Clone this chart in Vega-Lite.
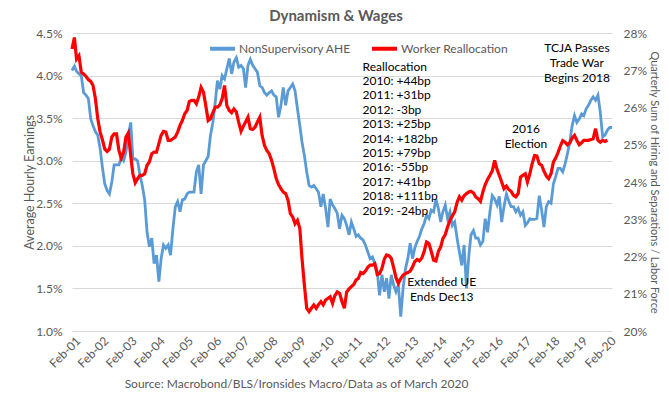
{
  "$schema": "https://vega.github.io/schema/vega-lite/v6.json",
  "width": 540,
  "height": 298,
  "autosize": {"type": "none"},
  "padding": {"left": 72, "top": 33, "right": 57, "bottom": 64},
  "background": "white",
  "title": {"text": "Dynamism & Wages", "font": "Lato", "fontSize": 15, "fontWeight": "bold", "color": "#595959", "frame": "group", "anchor": "middle", "offset": 3, "dx": -6},
  "config": {
    "font": "Lato",
    "view": {"stroke": null},
    "axis": {"labelFont": "Lato", "labelFontSize": 12, "labelColor": "#595959", "titleFont": "Lato", "titleFontSize": 12, "titleFontWeight": "normal", "titleColor": "#595959", "ticks": false, "domain": false, "grid": false, "labelOverlap": false},
    "axisX": {"labelOverlap": false, "labelBound": false, "labelFlush": false}
  },
  "datasets": {
    "series": [
      {"d":"2001-01-01","ahe":4.06,"wr":27.57},{"d":"2001-02-01","ahe":4.11,"wr":27.88},{"d":"2001-03-01","ahe":4.05,"wr":27.30},{"d":"2001-04-01","ahe":4.02,"wr":27.39},{"d":"2001-05-01","ahe":4.00,"wr":26.95},{"d":"2001-06-01","ahe":3.80,"wr":26.90},{"d":"2001-07-01","ahe":3.77,"wr":26.84},{"d":"2001-08-01","ahe":3.73,"wr":26.75},{"d":"2001-09-01","ahe":3.49,"wr":26.70},{"d":"2001-10-01","ahe":3.41,"wr":26.59},{"d":"2001-11-01","ahe":3.34,"wr":26.23},{"d":"2001-12-01","ahe":3.30,"wr":25.70},
      {"d":"2002-01-01","ahe":3.14,"wr":25.34},{"d":"2002-02-01","ahe":2.91,"wr":25.12},{"d":"2002-03-01","ahe":2.73,"wr":24.89},{"d":"2002-04-01","ahe":2.65,"wr":24.82},{"d":"2002-05-01","ahe":2.61,"wr":24.88},{"d":"2002-06-01","ahe":2.75,"wr":25.21},{"d":"2002-07-01","ahe":2.95,"wr":25.29},{"d":"2002-08-01","ahe":2.95,"wr":25.29},{"d":"2002-09-01","ahe":2.95,"wr":24.85},{"d":"2002-10-01","ahe":3.04,"wr":24.64},{"d":"2002-11-01","ahe":3.00,"wr":24.80},{"d":"2002-12-01","ahe":3.10,"wr":25.21},
      {"d":"2003-01-01","ahe":3.30,"wr":25.32},{"d":"2003-02-01","ahe":3.45,"wr":24.71},{"d":"2003-03-01","ahe":3.02,"wr":24.22},{"d":"2003-04-01","ahe":3.02,"wr":23.98},{"d":"2003-05-01","ahe":3.00,"wr":24.09},{"d":"2003-06-01","ahe":2.83,"wr":24.18},{"d":"2003-07-01","ahe":2.71,"wr":24.18},{"d":"2003-08-01","ahe":2.54,"wr":24.22},{"d":"2003-09-01","ahe":2.16,"wr":24.45},{"d":"2003-10-01","ahe":1.99,"wr":24.54},{"d":"2003-11-01","ahe":2.09,"wr":24.76},{"d":"2003-12-01","ahe":1.79,"wr":24.80},
      {"d":"2004-01-01","ahe":1.89,"wr":24.80},{"d":"2004-02-01","ahe":1.58,"wr":25.03},{"d":"2004-03-01","ahe":1.85,"wr":25.25},{"d":"2004-04-01","ahe":2.01,"wr":25.36},{"d":"2004-05-01","ahe":1.97,"wr":25.34},{"d":"2004-06-01","ahe":2.01,"wr":25.12},{"d":"2004-07-01","ahe":1.89,"wr":25.12},{"d":"2004-08-01","ahe":2.20,"wr":25.16},{"d":"2004-09-01","ahe":2.46,"wr":25.21},{"d":"2004-10-01","ahe":2.52,"wr":25.34},{"d":"2004-11-01","ahe":2.40,"wr":25.52},{"d":"2004-12-01","ahe":2.54,"wr":25.65},
      {"d":"2005-01-01","ahe":2.55,"wr":25.83},{"d":"2005-02-01","ahe":2.61,"wr":25.92},{"d":"2005-03-01","ahe":2.63,"wr":26.16},{"d":"2005-04-01","ahe":2.63,"wr":26.19},{"d":"2005-05-01","ahe":2.63,"wr":26.19},{"d":"2005-06-01","ahe":2.87,"wr":26.10},{"d":"2005-07-01","ahe":2.95,"wr":26.28},{"d":"2005-08-01","ahe":2.61,"wr":26.54},{"d":"2005-09-01","ahe":2.95,"wr":26.41},{"d":"2005-10-01","ahe":3.00,"wr":26.05},{"d":"2005-11-01","ahe":3.05,"wr":25.65},{"d":"2005-12-01","ahe":3.30,"wr":25.70},
      {"d":"2006-01-01","ahe":3.45,"wr":25.86},{"d":"2006-02-01","ahe":3.69,"wr":26.01},{"d":"2006-03-01","ahe":3.94,"wr":26.01},{"d":"2006-04-01","ahe":3.84,"wr":26.07},{"d":"2006-05-01","ahe":4.00,"wr":26.23},{"d":"2006-06-01","ahe":3.96,"wr":26.59},{"d":"2006-07-01","ahe":4.08,"wr":26.05},{"d":"2006-08-01","ahe":4.20,"wr":25.92},{"d":"2006-09-01","ahe":4.02,"wr":25.86},{"d":"2006-10-01","ahe":4.16,"wr":25.96},{"d":"2006-11-01","ahe":4.21,"wr":25.88},{"d":"2006-12-01","ahe":4.10,"wr":25.61},
      {"d":"2007-01-01","ahe":4.12,"wr":25.36},{"d":"2007-02-01","ahe":4.08,"wr":25.50},{"d":"2007-03-01","ahe":3.86,"wr":25.61},{"d":"2007-04-01","ahe":4.12,"wr":25.74},{"d":"2007-05-01","ahe":4.19,"wr":25.43},{"d":"2007-06-01","ahe":4.12,"wr":25.41},{"d":"2007-07-01","ahe":4.08,"wr":25.47},{"d":"2007-08-01","ahe":4.04,"wr":25.61},{"d":"2007-09-01","ahe":3.88,"wr":25.74},{"d":"2007-10-01","ahe":3.86,"wr":25.25},{"d":"2007-11-01","ahe":3.80,"wr":24.98},{"d":"2007-12-01","ahe":3.77,"wr":24.85},
      {"d":"2008-01-01","ahe":3.80,"wr":24.76},{"d":"2008-02-01","ahe":3.82,"wr":24.58},{"d":"2008-03-01","ahe":3.77,"wr":24.36},{"d":"2008-04-01","ahe":3.75,"wr":24.09},{"d":"2008-05-01","ahe":3.51,"wr":23.93},{"d":"2008-06-01","ahe":3.65,"wr":23.82},{"d":"2008-07-01","ahe":3.86,"wr":23.73},{"d":"2008-08-01","ahe":3.65,"wr":23.69},{"d":"2008-09-01","ahe":3.82,"wr":23.51},{"d":"2008-10-01","ahe":3.86,"wr":23.15},{"d":"2008-11-01","ahe":3.90,"wr":23.06},{"d":"2008-12-01","ahe":3.82,"wr":22.88},
      {"d":"2009-01-01","ahe":3.61,"wr":22.97},{"d":"2009-02-01","ahe":3.41,"wr":22.75},{"d":"2009-03-01","ahe":3.22,"wr":21.95},{"d":"2009-04-01","ahe":3.06,"wr":21.23},{"d":"2009-05-01","ahe":2.87,"wr":20.61},{"d":"2009-06-01","ahe":2.71,"wr":20.52},{"d":"2009-07-01","ahe":2.69,"wr":20.61},{"d":"2009-08-01","ahe":2.71,"wr":20.70},{"d":"2009-09-01","ahe":2.67,"wr":20.61},{"d":"2009-10-01","ahe":2.63,"wr":20.71},{"d":"2009-11-01","ahe":2.46,"wr":20.79},{"d":"2009-12-01","ahe":2.61,"wr":20.70},
      {"d":"2010-01-01","ahe":2.44,"wr":20.83},{"d":"2010-02-01","ahe":2.22,"wr":20.88},{"d":"2010-03-01","ahe":2.55,"wr":20.92},{"d":"2010-04-01","ahe":2.48,"wr":20.74},{"d":"2010-05-01","ahe":2.44,"wr":20.95},{"d":"2010-06-01","ahe":2.38,"wr":21.05},{"d":"2010-07-01","ahe":2.20,"wr":21.01},{"d":"2010-08-01","ahe":2.36,"wr":20.79},{"d":"2010-09-01","ahe":2.32,"wr":20.61},{"d":"2010-10-01","ahe":2.24,"wr":21.05},{"d":"2010-11-01","ahe":2.13,"wr":21.13},{"d":"2010-12-01","ahe":2.28,"wr":21.19},
      {"d":"2011-01-01","ahe":2.20,"wr":21.25},{"d":"2011-02-01","ahe":2.11,"wr":21.37},{"d":"2011-03-01","ahe":2.13,"wr":21.41},{"d":"2011-04-01","ahe":2.09,"wr":21.57},{"d":"2011-05-01","ahe":2.07,"wr":21.54},{"d":"2011-06-01","ahe":2.01,"wr":21.61},{"d":"2011-07-01","ahe":1.93,"wr":21.71},{"d":"2011-08-01","ahe":1.85,"wr":21.77},{"d":"2011-09-01","ahe":1.87,"wr":21.77},{"d":"2011-10-01","ahe":1.79,"wr":21.81},{"d":"2011-11-01","ahe":1.70,"wr":21.52},{"d":"2011-12-01","ahe":1.42,"wr":21.54},
      {"d":"2012-01-01","ahe":1.66,"wr":21.68},{"d":"2012-02-01","ahe":1.46,"wr":21.93},{"d":"2012-03-01","ahe":1.62,"wr":22.04},{"d":"2012-04-01","ahe":1.38,"wr":22.02},{"d":"2012-05-01","ahe":1.66,"wr":21.95},{"d":"2012-06-01","ahe":1.54,"wr":21.70},{"d":"2012-07-01","ahe":1.46,"wr":21.43},{"d":"2012-08-01","ahe":1.54,"wr":21.28},{"d":"2012-09-01","ahe":1.17,"wr":21.41},{"d":"2012-10-01","ahe":1.50,"wr":21.50},{"d":"2012-11-01","ahe":1.73,"wr":21.54},{"d":"2012-12-01","ahe":1.85,"wr":21.57},
      {"d":"2013-01-01","ahe":2.03,"wr":21.61},{"d":"2013-02-01","ahe":1.85,"wr":21.72},{"d":"2013-03-01","ahe":1.97,"wr":21.86},{"d":"2013-04-01","ahe":2.05,"wr":21.92},{"d":"2013-05-01","ahe":2.11,"wr":21.88},{"d":"2013-06-01","ahe":2.20,"wr":21.96},{"d":"2013-07-01","ahe":2.26,"wr":22.13},{"d":"2013-08-01","ahe":2.36,"wr":22.39},{"d":"2013-09-01","ahe":2.32,"wr":22.35},{"d":"2013-10-01","ahe":2.42,"wr":22.14},{"d":"2013-11-01","ahe":2.40,"wr":21.90},{"d":"2013-12-01","ahe":2.55,"wr":21.88},
      {"d":"2014-01-01","ahe":2.44,"wr":22.13},{"d":"2014-02-01","ahe":2.28,"wr":22.26},{"d":"2014-03-01","ahe":2.40,"wr":22.48},{"d":"2014-04-01","ahe":2.48,"wr":22.59},{"d":"2014-05-01","ahe":2.32,"wr":22.79},{"d":"2014-06-01","ahe":2.40,"wr":22.97},{"d":"2014-07-01","ahe":2.24,"wr":23.09},{"d":"2014-08-01","ahe":2.28,"wr":23.20},{"d":"2014-09-01","ahe":2.09,"wr":23.45},{"d":"2014-10-01","ahe":1.93,"wr":23.60},{"d":"2014-11-01","ahe":1.77,"wr":23.51},{"d":"2014-12-01","ahe":2.01,"wr":23.63},
      {"d":"2015-01-01","ahe":1.50,"wr":23.69},{"d":"2015-02-01","ahe":1.89,"wr":23.73},{"d":"2015-03-01","ahe":2.13,"wr":23.75},{"d":"2015-04-01","ahe":2.18,"wr":23.71},{"d":"2015-05-01","ahe":2.09,"wr":23.60},{"d":"2015-06-01","ahe":2.09,"wr":23.55},{"d":"2015-07-01","ahe":2.01,"wr":23.48},{"d":"2015-08-01","ahe":2.05,"wr":23.73},{"d":"2015-09-01","ahe":2.32,"wr":23.93},{"d":"2015-10-01","ahe":2.16,"wr":24.07},{"d":"2015-11-01","ahe":2.40,"wr":24.18},{"d":"2015-12-01","ahe":2.59,"wr":24.30},
      {"d":"2016-01-01","ahe":2.55,"wr":24.58},{"d":"2016-02-01","ahe":2.48,"wr":24.34},{"d":"2016-03-01","ahe":2.58,"wr":24.18},{"d":"2016-04-01","ahe":2.28,"wr":24.00},{"d":"2016-05-01","ahe":2.46,"wr":23.82},{"d":"2016-06-01","ahe":2.61,"wr":23.89},{"d":"2016-07-01","ahe":2.53,"wr":23.80},{"d":"2016-08-01","ahe":2.46,"wr":23.75},{"d":"2016-09-01","ahe":2.46,"wr":23.64},{"d":"2016-10-01","ahe":2.40,"wr":23.60},{"d":"2016-11-01","ahe":2.44,"wr":23.69},{"d":"2016-12-01","ahe":2.36,"wr":24.13},
      {"d":"2017-01-01","ahe":2.40,"wr":24.18},{"d":"2017-02-01","ahe":2.24,"wr":24.22},{"d":"2017-03-01","ahe":2.27,"wr":24.00},{"d":"2017-04-01","ahe":2.32,"wr":24.22},{"d":"2017-05-01","ahe":2.31,"wr":24.49},{"d":"2017-06-01","ahe":2.31,"wr":24.71},{"d":"2017-07-01","ahe":2.32,"wr":24.70},{"d":"2017-08-01","ahe":2.59,"wr":24.49},{"d":"2017-09-01","ahe":2.42,"wr":24.45},{"d":"2017-10-01","ahe":2.22,"wr":24.29},{"d":"2017-11-01","ahe":2.46,"wr":24.16},{"d":"2017-12-01","ahe":2.52,"wr":24.09},
      {"d":"2018-01-01","ahe":2.50,"wr":24.22},{"d":"2018-02-01","ahe":2.73,"wr":24.54},{"d":"2018-03-01","ahe":2.81,"wr":24.64},{"d":"2018-04-01","ahe":2.91,"wr":24.79},{"d":"2018-05-01","ahe":2.91,"wr":24.96},{"d":"2018-06-01","ahe":2.87,"wr":25.11},{"d":"2018-07-01","ahe":2.96,"wr":25.07},{"d":"2018-08-01","ahe":3.08,"wr":25.00},{"d":"2018-09-01","ahe":3.22,"wr":25.05},{"d":"2018-10-01","ahe":3.41,"wr":25.18},{"d":"2018-11-01","ahe":3.53,"wr":25.25},{"d":"2018-12-01","ahe":3.45,"wr":25.12},
      {"d":"2019-01-01","ahe":3.49,"wr":25.00},{"d":"2019-02-01","ahe":3.55,"wr":25.05},{"d":"2019-03-01","ahe":3.53,"wr":25.12},{"d":"2019-04-01","ahe":3.61,"wr":25.12},{"d":"2019-05-01","ahe":3.65,"wr":25.12},{"d":"2019-06-01","ahe":3.71,"wr":25.14},{"d":"2019-07-01","ahe":3.75,"wr":25.16},{"d":"2019-08-01","ahe":3.71,"wr":25.43},{"d":"2019-09-01","ahe":3.77,"wr":25.12},{"d":"2019-10-01","ahe":3.57,"wr":25.07},{"d":"2019-11-01","ahe":3.28,"wr":25.12},{"d":"2019-12-01","ahe":3.30,"wr":25.09},
      {"d":"2020-01-01","ahe":3.36,"wr":25.12},{"d":"2020-02-01","ahe":3.39,"wr":null},{"d":"2020-03-01","ahe":3.39,"wr":null}
    ],
    "notesLeft": [
      {"d":"2011-04-25","v":4.165,"t":"Reallocation\n2010: +44bp\n2011: +31bp\n2012: -3bp\n2013: +25bp\n2014: +182bp\n2015: +79bp\n2016:  -55bp\n2017: +41bp\n2018: +111bp\n2019: -24bp"}
    ],
    "notesCenter": [
      {"d":"2017-02-10","v":3.431,"t":"2016\nElection"},
      {"d":"2018-12-02","v":4.383,"t":"TCJA Passes\nTrade War\nBegins 2018"},
      {"d":"2014-02-14","v":1.634,"t":"Extended UE\nEnds Dec13"}
    ]
  },
  "encoding": {
    "x": {"field": "d", "type": "temporal",
      "scale": {"type": "utc", "domain": [{"year":2001,"month":1,"date":1,"utc":true},{"year":2020,"month":3,"date":1,"utc":true}]},
      "axis": {"values": [
        {"year":2001,"month":2,"date":1,"utc":true},{"year":2002,"month":2,"date":1,"utc":true},{"year":2003,"month":2,"date":1,"utc":true},{"year":2004,"month":2,"date":1,"utc":true},{"year":2005,"month":2,"date":1,"utc":true},{"year":2006,"month":2,"date":1,"utc":true},{"year":2007,"month":2,"date":1,"utc":true},{"year":2008,"month":2,"date":1,"utc":true},{"year":2009,"month":2,"date":1,"utc":true},{"year":2010,"month":2,"date":1,"utc":true},{"year":2011,"month":2,"date":1,"utc":true},{"year":2012,"month":2,"date":1,"utc":true},{"year":2013,"month":2,"date":1,"utc":true},{"year":2014,"month":2,"date":1,"utc":true},{"year":2015,"month":2,"date":1,"utc":true},{"year":2016,"month":2,"date":1,"utc":true},{"year":2017,"month":2,"date":1,"utc":true},{"year":2018,"month":2,"date":1,"utc":true},{"year":2019,"month":2,"date":1,"utc":true},{"year":2020,"month":2,"date":1,"utc":true}],
        "format": "%b-%y", "labelAngle": -45, "labelPadding": 4, "labelOverlap": false, "labelSeparation": 0,
        "title": "Source: Macrobond/BLS/Ironsides Macro/Data as of March 2020",
        "titleX": 224, "titleY": 47, "titleAlign": "center", "titleBaseline": "top", "titleAnchor": null}}
  },
  "layer": [
    {
      "data": {"name": "series"},
      "mark": {"type": "line", "strokeWidth": 2.8, "interpolate": "linear"},
      "encoding": {
        "y": {"field": "ahe", "type": "quantitative",
          "scale": {"domain": [1, 4.5], "nice": false, "zero": false},
          "axis": {"values": [1, 1.5, 2, 2.5, 3, 3.5, 4, 4.5], "labelExpr": "format(datum.value, '.1f') + '%'", "grid": true, "gridColor": "#D9D9D9", "gridWidth": 1, "labelPadding": 10, "title": "Average Hourly Earnings", "titleFontSize": 12.5, "titlePadding": -1}},
        "color": {"datum": "NonSupervisory AHE", "type": "nominal",
          "scale": {"domain": ["NonSupervisory AHE", "Worker Reallocation"], "range": ["#5B9BD5", "#FF0000"]},
          "legend": {"orient": "none", "legendX": 136, "legendY": 1, "direction": "horizontal", "title": null, "symbolType": "stroke", "symbolSize": 625, "symbolStrokeWidth": 4, "labelFont": "Lato", "labelFontSize": 12, "labelColor": "#595959", "labelOffset": 2, "columnPadding": 13}}
      }
    },
    {
      "data": {"name": "series"},
      "mark": {"type": "line", "strokeWidth": 3.2},
      "encoding": {
        "y": {"field": "wr", "type": "quantitative",
          "scale": {"domain": [20, 28], "nice": false, "zero": false},
          "axis": {"orient": "right", "values": [20, 21, 22, 23, 24, 25, 26, 27, 28], "labelExpr": "datum.value + '%'", "grid": false, "labelPadding": 11, "title": "Quarterly Sum of Hiring and Separations / Labor Force", "titleFontSize": 11, "titlePadding": 2}},
        "color": {"datum": "Worker Reallocation", "type": "nominal"}
      }
    },
    {
      "data": {"name": "notesLeft"},
      "mark": {"type": "text", "align": "left", "baseline": "top", "lineBreak": "\n", "lineHeight": 14.4, "font": "Lato", "fontSize": 12, "color": "black"},
      "encoding": {
        "y": {"field": "v", "type": "quantitative", "scale": {"domain": [1, 4.5], "nice": false, "zero": false}, "axis": null},
        "text": {"field": "t", "type": "nominal"}
      }
    },
    {
      "data": {"name": "notesCenter"},
      "mark": {"type": "text", "align": "center", "baseline": "top", "lineBreak": "\n", "lineHeight": 14.8, "font": "Lato", "fontSize": 12, "color": "black"},
      "encoding": {
        "y": {"field": "v", "type": "quantitative", "scale": {"domain": [1, 4.5], "nice": false, "zero": false}, "axis": null},
        "text": {"field": "t", "type": "nominal"}
      }
    }
  ],
  "resolve": {"scale": {"y": "independent"}}
}
